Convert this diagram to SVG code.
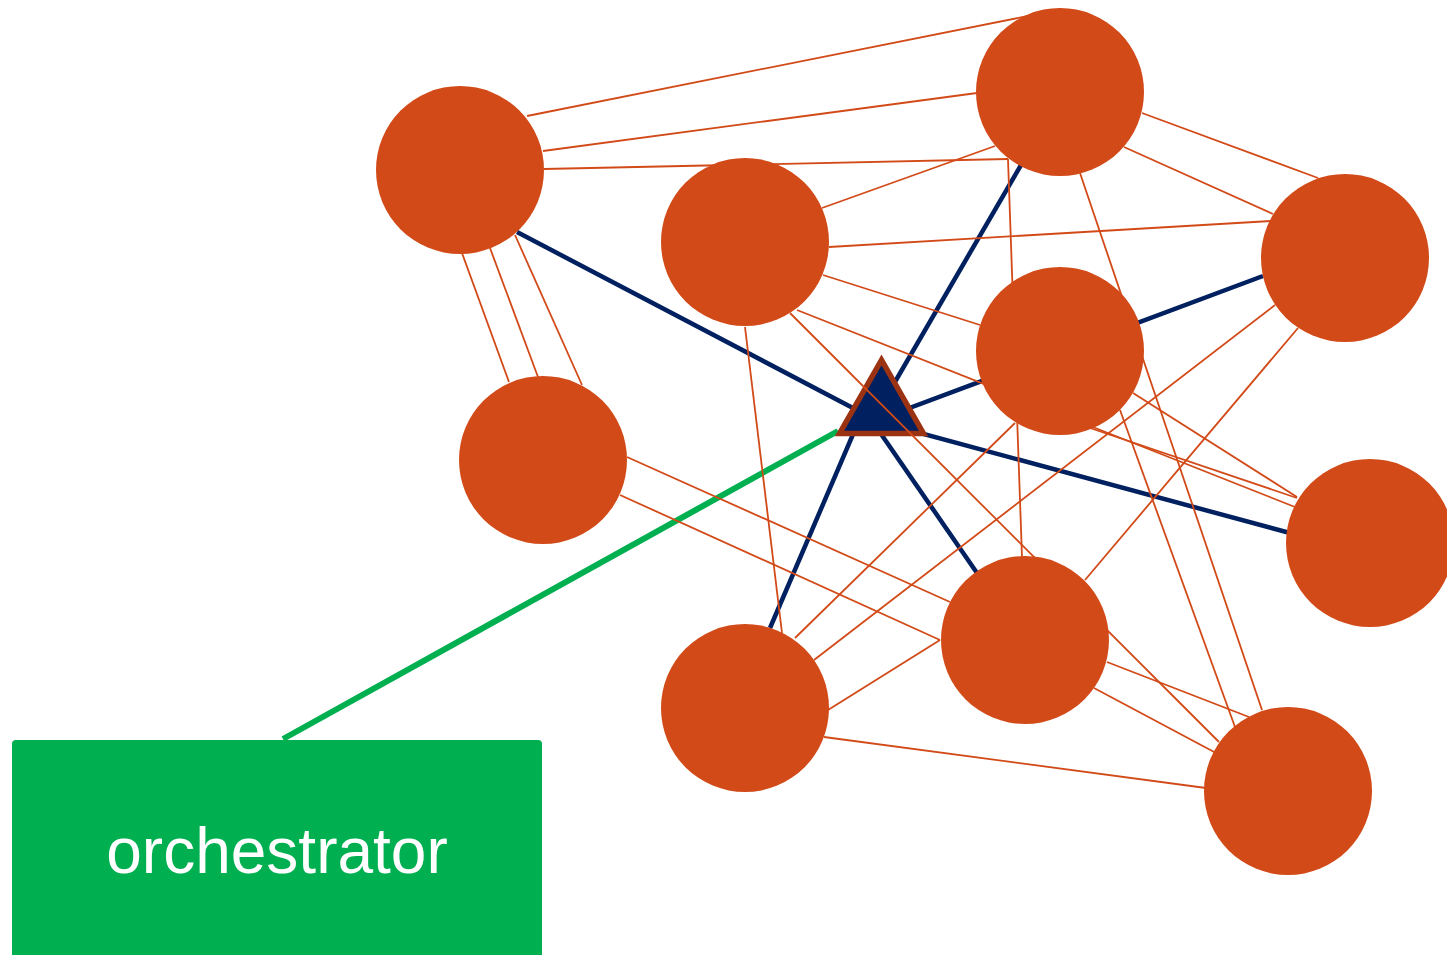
<svg xmlns="http://www.w3.org/2000/svg" width="1447" height="955" viewBox="0 0 1447 955">
<style>
.e{stroke:#D24A18;stroke-width:1.8;fill:none}
.n{stroke:#002060;stroke-width:4.5;fill:none}
.g{stroke:#00B050;stroke-width:6;fill:none}
.c{fill:#D24A18}
.lbl{font-family:"Liberation Sans",Arial,sans-serif;font-size:64px;fill:#FFFFFF;text-anchor:middle}
</style>
<rect width="1447" height="955" fill="#FFFFFF"/>
<g id="connectors-hub">
<line class="n" x1="517" y1="232" x2="872" y2="418"/>
<line class="n" x1="1021" y1="165" x2="874" y2="418"/>
<line class="n" x1="1263" y1="276" x2="872" y2="422"/>
<line class="n" x1="1290" y1="533" x2="872" y2="420"/>
<line class="n" x1="977" y1="573" x2="870" y2="418"/>
<line class="n" x1="770" y1="628" x2="860" y2="418"/>
<line class="g" x1="283" y1="739" x2="838" y2="431"/>
</g>
<g id="hub">
<polygon points="881.5,360 839.5,433.5 923.5,433.5" fill="#002060" stroke="#9B3212" stroke-width="5.5" stroke-linejoin="miter"/>
</g>
<g id="connectors">
<line class="e" x1="527" y1="116" x2="1028" y2="16"/>
<line class="e" x1="543" y1="151" x2="977" y2="93"/>
<line class="e" x1="544" y1="169" x2="1008" y2="159"/>
<line class="e" x1="1008" y1="159" x2="1022" y2="557"/>
<line class="e" x1="822" y1="208" x2="995" y2="146"/>
<line class="e" x1="829" y1="247" x2="1271" y2="221"/>
<line class="e" x1="823" y1="275" x2="980" y2="325"/>
<line class="e" x1="797" y1="310" x2="1295" y2="507"/>
<line class="e" x1="790" y1="313" x2="1219" y2="742"/>
<line class="e" x1="745" y1="327" x2="782" y2="633"/>
<line class="e" x1="462" y1="253" x2="509" y2="382"/>
<line class="e" x1="490" y1="248" x2="538" y2="377"/>
<line class="e" x1="515" y1="235" x2="582" y2="385"/>
<line class="e" x1="1142" y1="113" x2="1318" y2="178"/>
<line class="e" x1="1124" y1="147" x2="1273" y2="214"/>
<line class="e" x1="1080" y1="173" x2="1262" y2="710"/>
<line class="e" x1="1120" y1="410" x2="1235" y2="727"/>
<line class="e" x1="1275" y1="305" x2="814" y2="660"/>
<line class="e" x1="1298" y1="328" x2="1085" y2="580"/>
<line class="e" x1="795" y1="638" x2="1015" y2="423"/>
<line class="e" x1="1090" y1="428" x2="1297" y2="498"/>
<line class="e" x1="1133" y1="393" x2="1297" y2="497"/>
<line class="e" x1="627" y1="457" x2="950" y2="602"/>
<line class="e" x1="620" y1="495" x2="940" y2="640"/>
<line class="e" x1="828" y1="710" x2="940" y2="640"/>
<line class="e" x1="824" y1="737" x2="1206" y2="788"/>
<line class="e" x1="1107" y1="662" x2="1249" y2="717"/>
<line class="e" x1="1094" y1="688" x2="1216" y2="753"/>
</g>
<g id="node-a"><circle class="c" cx="460" cy="170" r="84"/></g>
<g id="node-b"><circle class="c" cx="1060" cy="92" r="84"/></g>
<g id="node-c"><circle class="c" cx="745" cy="242" r="84"/></g>
<g id="node-d"><circle class="c" cx="1345" cy="258" r="84"/></g>
<g id="node-e"><circle class="c" cx="1060" cy="351" r="84"/></g>
<g id="node-f"><circle class="c" cx="543" cy="460" r="84"/></g>
<g id="node-g"><circle class="c" cx="1370" cy="543" r="84"/></g>
<g id="node-h"><circle class="c" cx="1025" cy="640" r="84"/></g>
<g id="node-i"><circle class="c" cx="745" cy="708" r="84"/></g>
<g id="node-j"><circle class="c" cx="1288" cy="791" r="84"/></g>
<g id="orchestrator">
<rect x="12" y="740" width="530" height="230" rx="4" fill="#00B050"/>
<text class="lbl" x="277" y="873">orchestrator</text>
</g>
</svg>
